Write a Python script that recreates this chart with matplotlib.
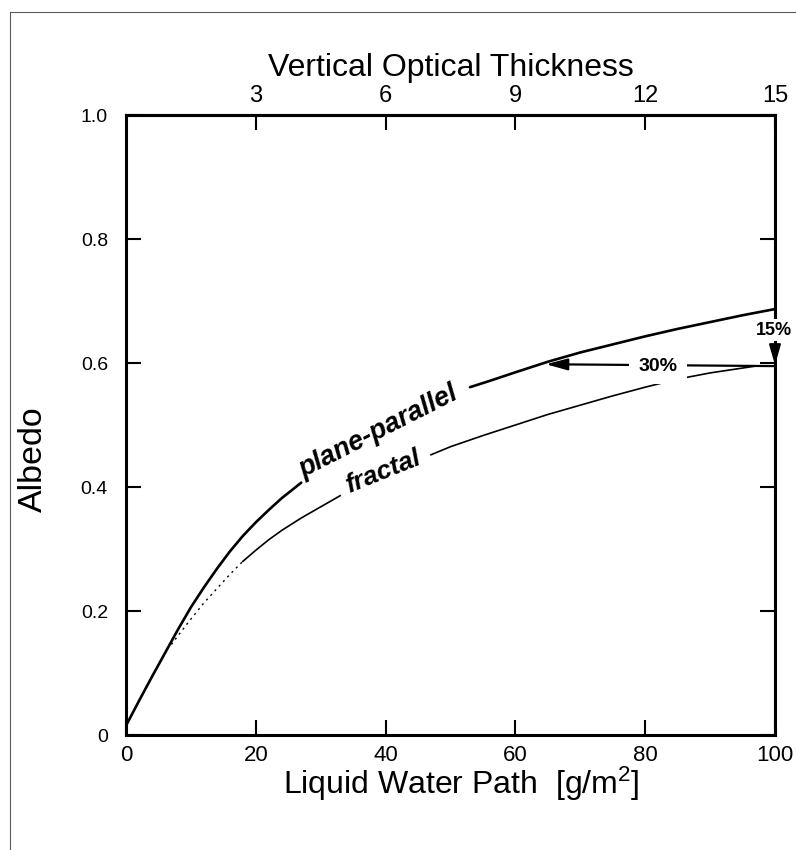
import matplotlib
matplotlib.use("Agg")
import matplotlib.pyplot as plt
from matplotlib.lines import Line2D

plt.rcParams['font.family'] = ['Liberation Sans', 'DejaVu Sans']
plt.rcParams['mathtext.fontset'] = 'custom'
plt.rcParams['mathtext.rm'] = 'Liberation Sans'
plt.rcParams['mathtext.it'] = 'Liberation Sans:italic'
plt.rcParams['mathtext.bf'] = 'Liberation Sans:bold'

# ---- data ----
# plane-parallel curve, lower part (before label) and upper part (after label)
lwp_pp_low = [0, 2, 4, 6, 8, 10, 12, 14, 16, 18, 20, 22, 24, 27]
alb_pp_low = [0.015, 0.055, 0.094, 0.132, 0.170, 0.206, 0.238, 0.268, 0.296, 0.321, 0.343, 0.363, 0.382, 0.407]
lwp_pp_high = [53, 56, 60, 65, 70, 75, 80, 85, 90, 95, 100]
alb_pp_high = [0.561, 0.571, 0.585, 0.602, 0.617, 0.630, 0.643, 0.655, 0.666, 0.677, 0.687]

# fractal curve: dotted start, solid part before label, solid part after label
lwp_fr_dot = [7, 8, 10, 12, 14, 16, 18]
alb_fr_dot = [0.146, 0.160, 0.187, 0.213, 0.236, 0.259, 0.280]
lwp_fr_low = [18, 20, 22, 24, 27, 30, 33]
alb_fr_low = [0.280, 0.298, 0.315, 0.330, 0.350, 0.368, 0.386]
lwp_fr_high = [47, 50, 55, 60, 65, 70, 75, 80, 85, 90, 97]
alb_fr_high = [0.452, 0.465, 0.483, 0.500, 0.517, 0.532, 0.547, 0.561, 0.574, 0.584, 0.595]

x_ticks = [0, 20, 40, 60, 80, 100]
y_ticks = [0, 0.2, 0.4, 0.6, 0.8, 1.0]
y_ticklabels = ['0', '0.2', '0.4', '0.6', '0.8', '1.0']
tau_ticks = [3, 6, 9, 12, 15]
tau_per_lwp = 0.15  # optical thickness 15 <-> LWP 100

# annotation values
arrow30_from = (100, 0.595)
arrow30_to = (64.7, 0.598)
label30_pos = (82, 0.595)
arrow15_from = (100, 0.633)
arrow15_to = (100, 0.597)
label15_pos = (99.8, 0.653)

fig = plt.figure(figsize=(7.96, 8.5), dpi=100)
ax = fig.add_axes([126/796, 115/850, 649/796, 620/850])

lw_pp = 1.9
lw_fr = 1.2
ax.plot(lwp_pp_low, alb_pp_low, color='black', lw=lw_pp, solid_capstyle='round')
ax.plot(lwp_pp_high, alb_pp_high, color='black', lw=lw_pp, solid_capstyle='round')
ax.plot(lwp_fr_dot, alb_fr_dot, color='black', lw=1.0, linestyle=(0, (1.5, 3)))
ax.plot(lwp_fr_low, alb_fr_low, color='black', lw=lw_fr)
ax.plot(lwp_fr_high, alb_fr_high, color='black', lw=lw_fr)

ax.set_xlim(0, 100)
ax.set_ylim(0, 1.0)
ax.set_xticks(x_ticks)
ax.set_xticklabels([str(v) for v in x_ticks])
ax.set_yticks(y_ticks)
ax.set_yticklabels(y_ticklabels)

for s in ax.spines.values():
    s.set_linewidth(2.2)

ax.tick_params(axis='both', direction='in', length=11, width=1.5, right=True)
ax.tick_params(axis='y', labelsize=14, pad=13)
ax.tick_params(axis='x', labelsize=16, pad=7)

ax.set_xlabel(r'Liquid Water Path  [g/m$^{\mathregular{2}}$]', fontsize=23)
ax.xaxis.set_label_coords(0.516, -0.048)
ax.set_ylabel('Albedo', fontsize=24.5)
ax.yaxis.set_label_coords(-0.118, 0.445)

sec = ax.secondary_xaxis('top', functions=(lambda x: x * tau_per_lwp, lambda t: t / tau_per_lwp))
sec.set_xticks(tau_ticks)
sec.set_xticklabels([str(v) for v in tau_ticks])
sec.tick_params(direction='in', length=11, width=1.5, labelsize=17, pad=6)
sec.spines['top'].set_linewidth(2.2)
sec.set_xlabel('Vertical Optical Thickness', fontsize=23, labelpad=6)

# curve labels
ax.text(39.0, 0.489, 'plane-parallel', rotation=27, fontsize=19.5, fontweight='bold',
        fontstyle='italic', ha='center', va='center', rotation_mode='anchor')
ax.text(39.6, 0.425, 'fractal', rotation=22, fontsize=19, fontweight='bold',
        fontstyle='italic', ha='center', va='center', rotation_mode='anchor')

# 30% arrow
ax.annotate('', xy=arrow30_to, xytext=arrow30_from,
            arrowprops=dict(arrowstyle='-|>,head_length=1.3,head_width=0.35',
                            color='black', lw=1.6, shrinkA=0, shrinkB=0))
ax.text(*label30_pos, '30%', fontsize=14, fontweight='bold', ha='center', va='center',
        bbox=dict(facecolor='white', edgecolor='none', pad=7), zorder=5)

# 15% arrow
ax.annotate('', xy=arrow15_to, xytext=arrow15_from,
            arrowprops=dict(arrowstyle='-|>,head_length=1.2,head_width=0.35',
                            color='black', lw=1.6, shrinkA=0, shrinkB=0),
            annotation_clip=False)
ax.text(*label15_pos, '15%', fontsize=13, fontweight='bold', ha='center', va='center',
        bbox=dict(facecolor='white', edgecolor='none', pad=2), zorder=5, clip_on=False)

# scanned page frame
fig.add_artist(Line2D([10/796, 1.0], [1 - 12/850, 1 - 12/850], transform=fig.transFigure,
                      color='0.35', lw=0.8))
fig.add_artist(Line2D([10/796, 10/796], [0.0, 1 - 12/850], transform=fig.transFigure,
                      color='0.35', lw=0.8))

fig.savefig('out.png', dpi=100, facecolor='white')
